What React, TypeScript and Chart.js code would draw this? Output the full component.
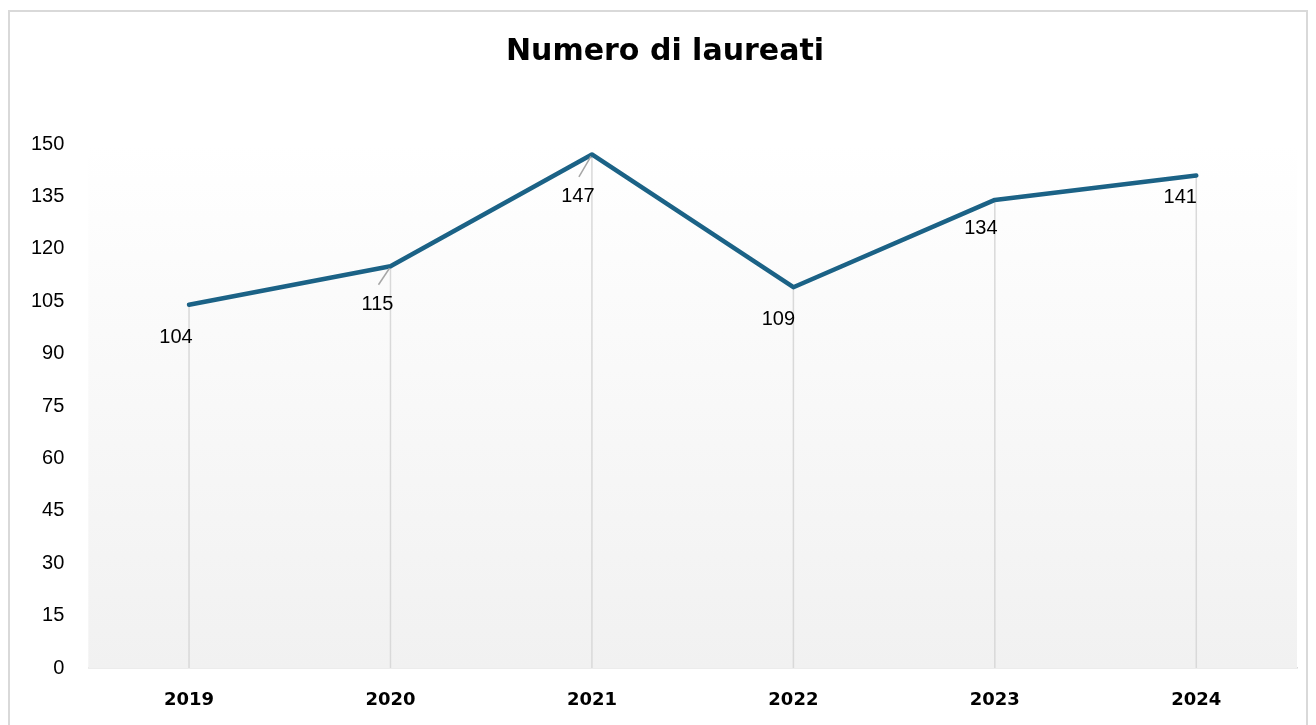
import React, { useEffect, useRef } from "react";
import { Chart, registerables } from "chart.js";

Chart.register(...registerables);

const TITLE = "Numero di laureati";
const YEARS = ["2019", "2020", "2021", "2022", "2023", "2024"];
const LAUREATI = [104, 115, 147, 109, 134, 141];
const Y_MIN = 0;
const Y_MAX = 150;
const Y_STEP = 15;

// label placement relative to each point (layout only)
const LABEL_DX = [-13, -13, -14, -15, -14, -16];
const LABEL_DY = [33, 38.5, 42.5, 32.5, 29, 22.5];
const LEADER = [false, true, true, false, false, false];

const LINE_COLOR = "#1b6286";
const FONT = "'Liberation Sans', Arial, sans-serif";
const BOLD_FONT = "'DejaVu Sans', sans-serif";

const bgPlugin = {
  id: "bgGrad",
  beforeDatasetsDraw(chart: any) {
    const { ctx, chartArea } = chart;
    const g = ctx.createLinearGradient(0, chartArea.top, 0, chartArea.bottom);
    g.addColorStop(0, "#ffffff");
    g.addColorStop(1, "#f1f1f1");
    ctx.save();
    ctx.fillStyle = g;
    ctx.fillRect(chartArea.left, chartArea.top, chartArea.right - chartArea.left, chartArea.bottom - chartArea.top);
    const meta = chart.getDatasetMeta(0);
    ctx.strokeStyle = "#d9d9d9";
    ctx.lineWidth = 1.5;
    meta.data.forEach((pt: any) => {
      ctx.beginPath();
      ctx.moveTo(pt.x, pt.y);
      ctx.lineTo(pt.x, chartArea.bottom);
      ctx.stroke();
    });
    ctx.restore();
  },
};

const labelPlugin = {
  id: "dataLabels",
  afterDatasetsDraw(chart: any) {
    const { ctx } = chart;
    const meta = chart.getDatasetMeta(0);
    ctx.save();
    meta.data.forEach((pt: any, i: number) => {
      const lx = pt.x + LABEL_DX[i];
      const ly = pt.y + LABEL_DY[i];
      if (LEADER[i]) {
        ctx.strokeStyle = "#a6a6a6";
        ctx.lineWidth = 1.5;
        ctx.beginPath();
        ctx.moveTo(pt.x - 1, pt.y + 2);
        ctx.lineTo(lx + 1, ly - 20);
        ctx.stroke();
      }
      ctx.fillStyle = "#000000";
      ctx.font = `20px ${FONT}`;
      ctx.textAlign = "center";
      ctx.textBaseline = "middle";
      ctx.fillText(String(LAUREATI[i]), lx, ly);
    });
    ctx.restore();
  },
};

const titlePlugin = {
  id: "customTitle",
  afterDraw(chart: any) {
    const { ctx } = chart;
    ctx.save();
    ctx.fillStyle = "#000000";
    ctx.font = `bold 30px ${BOLD_FONT}`;
    ctx.textAlign = "center";
    ctx.textBaseline = "alphabetic";
    ctx.fillText(TITLE, chart.width / 2 + 7, 48);
    ctx.restore();
  },
};

export default function App() {
  const ref = useRef<HTMLCanvasElement | null>(null);
  useEffect(() => {
    if (!ref.current) return;
    const chart = new Chart(ref.current, {
      type: "line",
      data: {
        labels: YEARS,
        datasets: [
          {
            data: LAUREATI,
            borderColor: LINE_COLOR,
            borderWidth: 4.5,
            pointRadius: 0,
            tension: 0,
            borderCapStyle: "round",
            borderJoinStyle: "round",
          },
        ],
      },
      options: {
        animation: false,
        responsive: false,
        layout: { padding: { left: 0, right: 9, top: 132, bottom: 0 } },
        plugins: {
          legend: { display: false },
          tooltip: { enabled: false },
          title: { display: false },
        },
        scales: {
          x: {
            offset: true,
            grid: { display: false, drawTicks: false },
            border: { display: true, color: "#d9d9d9", width: 1.5 },
            ticks: {
              color: "#000000",
              font: { family: BOLD_FONT, size: 18, weight: "bold" },
              padding: 22,
            },
            afterFit(scale: any) {
              scale.height = 57;
            },
          },
          y: {
            min: Y_MIN,
            max: Y_MAX,
            grid: { display: false, drawTicks: false },
            border: { display: false },
            ticks: {
              stepSize: Y_STEP,
              color: "#000000",
              font: { family: FONT, size: 20 },
              padding: 24,
            },
            afterFit(scale: any) {
              scale.width = 78.3;
            },
          },
        },
      },
      plugins: [bgPlugin, labelPlugin, titlePlugin],
    });
    return () => chart.destroy();
  }, []);

  return (
    <div
      style={{
        position: "fixed",
        left: 8,
        top: 10,
        width: 1300,
        height: 730,
        boxSizing: "border-box",
        border: "2px solid #d9d9d9",
        background: "#ffffff",
      }}
    >
      <canvas ref={ref} width={1296} height={713} style={{ display: "block" }} />
    </div>
  );
}
